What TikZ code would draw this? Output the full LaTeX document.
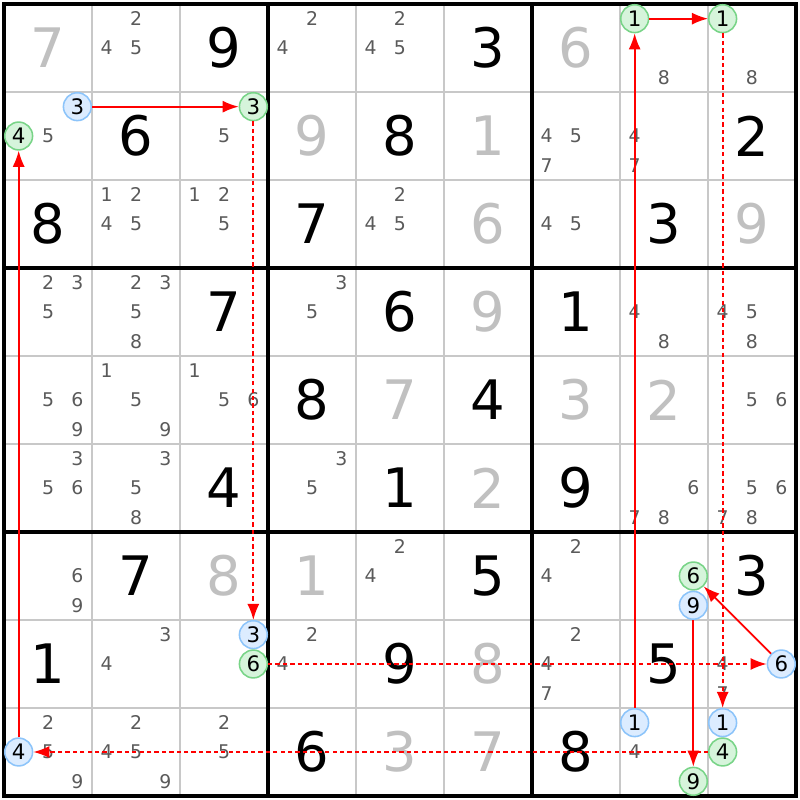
\documentclass[tikz,border=0pt]{standalone}
\usepackage{fontspec}
\setmainfont{DejaVu Sans}
\usepackage{tikz}
\usetikzlibrary{arrows.meta}
\pgfdeclarelayer{cuadricula}
\pgfdeclarelayer{enlaces_layer}
\pgfsetlayers{cuadricula,main,enlaces_layer}
\definecolor{gris_resuelto}{RGB}{192,192,192}
\definecolor{gris_candidato}{RGB}{90,90,90}
\definecolor{gris_linea}{RGB}{200,200,200}
\definecolor{azul_relleno}{RGB}{220,236,255}
\definecolor{azul_borde}{RGB}{140,196,250}
\definecolor{verde_relleno}{RGB}{214,244,219}
\definecolor{verde_borde}{RGB}{120,212,135}
\tikzstyle{none}=[inner sep=0pt]
\tikzstyle{dado}=[inner sep=0pt,font=\fontsize{17.6}{18}\selectfont,text=black]
\tikzstyle{resuelto}=[dado,text=gris_resuelto]
\tikzstyle{candidato}=[inner sep=0pt,font=\fontsize{6.1}{6.1}\selectfont,text=gris_candidato]
\tikzstyle{azul}=[circle,draw=azul_borde,fill=azul_relleno,line width=0.5pt,minimum size=9pt,inner sep=0pt,font=\fontsize{6.9}{6.9}\selectfont]
\tikzstyle{verde}=[azul,draw=verde_borde,fill=verde_relleno]
\tikzstyle{enlace}=[draw=red,line width=0.55pt,-{Latex[length=5.2pt,width=3.9pt]}]
\tikzstyle{enlace_debil}=[enlace,dash pattern=on 1.4pt off 1pt]

\begin{document}
\begin{tikzpicture}
		\useasboundingbox (-0.0455,-0.0455) rectangle (9.0455,9.0455);
		\begin{pgfonlayer}{cuadricula}
			\fill [white] (-0.0455,-0.0455) rectangle (9.0455,9.0455);
			\foreach \i in {1,2,4,5,7,8} {
				\draw [gris_linea,line width=0.5pt] (\i,0) -- (\i,9);
				\draw [gris_linea,line width=0.5pt] (0,\i) -- (9,\i);
			}
			\foreach \i in {3,6} {
				\draw [black,line width=1pt] (\i,0) -- (\i,9);
				\draw [black,line width=1pt] (0,\i) -- (9,\i);
			}
			\draw [black,line width=1.1pt] (0,0) rectangle (9,9);
		\end{pgfonlayer}
		% numeros dados y resueltos
		\foreach \r/\c/\v in {1/3/9,1/6/3,2/2/6,2/5/8,2/9/2,3/1/8,3/4/7,3/8/3,4/3/7,4/5/6,4/7/1,5/4/8,5/6/4,6/3/4,6/5/1,6/7/9,7/2/7,7/6/5,7/9/3,8/1/1,8/5/9,8/8/5,9/4/6,9/7/8}
			\node [style=dado] (dado_\r_\c) at ({\c-0.5},{9.5-\r}) {\v};
		\foreach \r/\c/\v in {1/1/7,1/7/6,2/4/9,2/6/1,3/6/6,3/9/9,4/6/9,5/5/7,5/7/3,5/8/2,6/6/2,7/3/8,7/4/1,8/6/8,9/5/3,9/6/7}
			\node [style=resuelto] (resuelto_\r_\c) at ({\c-0.5},{9.5-\r}) {\v};
		% candidatos
		\foreach \r/\c/\lista in {1/2/{2,4,5},1/4/{2,4},1/5/{2,4,5},1/8/{8},1/9/{8},
				2/1/{5},2/3/{5},2/7/{4,5,7},2/8/{4,7},
				3/2/{1,2,4,5},3/3/{1,2,5},3/5/{2,4,5},3/7/{4,5},
				4/1/{2,3,5},4/2/{2,3,5,8},4/4/{3,5},4/8/{4,8},4/9/{4,5,8},
				5/1/{5,6,9},5/2/{1,5,9},5/3/{1,5,6},5/9/{5,6},
				6/1/{3,5,6},6/2/{3,5,8},6/4/{3,5},6/8/{6,7,8},6/9/{5,6,7,8},
				7/1/{6,9},7/5/{2,4},7/7/{2,4},
				8/2/{3,4},8/4/{2,4},8/7/{2,4,7},8/9/{4,7},
				9/1/{2,5,9},9/2/{2,4,5,9},9/3/{2,5},9/8/{4}}
			\foreach \d in \lista {
				\pgfmathsetmacro{\cx}{\c-1+(mod(\d-1,3)+0.5)/3}
				\pgfmathsetmacro{\cy}{10-\r-(floor((\d-1)/3)+0.5)/3}
				\node [style=candidato] (cand_\r_\c_\d) at (\cx,\cy) {\d};
			}
		% candidatos de la cadena
		\node [style=azul] (azul3_r2c1) at (0.8333,7.8333) {3};
		\node [style=verde] (verde4_r2c1) at (0.1667,7.5) {4};
		\node [style=verde] (verde3_r2c3) at (2.8333,7.8333) {3};
		\node [style=azul] (azul3_r8c3) at (2.8333,1.8333) {3};
		\node [style=verde] (verde6_r8c3) at (2.8333,1.5) {6};
		\node [style=azul] (azul6_r8c9) at (8.8333,1.5) {6};
		\node [style=verde] (verde6_r7c8) at (7.8333,2.5) {6};
		\node [style=azul] (azul9_r7c8) at (7.8333,2.1667) {9};
		\node [style=verde] (verde9_r9c8) at (7.8333,0.1667) {9};
		\node [style=azul] (azul1_r9c8) at (7.1667,0.8333) {1};
		\node [style=verde] (verde1_r1c8) at (7.1667,8.8333) {1};
		\node [style=verde] (verde1_r1c9) at (8.1667,8.8333) {1};
		\node [style=azul] (azul1_r9c9) at (8.1667,0.8333) {1};
		\node [style=verde] (verde4_r9c9) at (8.1667,0.5) {4};
		\node [style=azul] (azul4_r9c1) at (0.1667,0.5) {4};
		\begin{pgfonlayer}{enlaces_layer}
			\path [style=enlace] (azul3_r2c1) -- (verde3_r2c3);
			\path [style=enlace_debil] (verde3_r2c3) -- (azul3_r8c3);
			\path [style=enlace_debil] (verde6_r8c3) -- (azul6_r8c9);
			\path [style=enlace] (azul6_r8c9) -- (verde6_r7c8);
			\path [style=enlace] (azul9_r7c8) -- (verde9_r9c8);
			\path [style=enlace_debil] (verde4_r9c9) -- (azul4_r9c1);
			\path [style=enlace] (azul4_r9c1) -- (verde4_r2c1);
			\path [style=enlace] (azul1_r9c8) -- (verde1_r1c8);
			\path [style=enlace] (verde1_r1c8) -- (verde1_r1c9);
			\path [style=enlace_debil] (verde1_r1c9) -- (azul1_r9c9);
		\end{pgfonlayer}
\end{tikzpicture}
\end{document}
